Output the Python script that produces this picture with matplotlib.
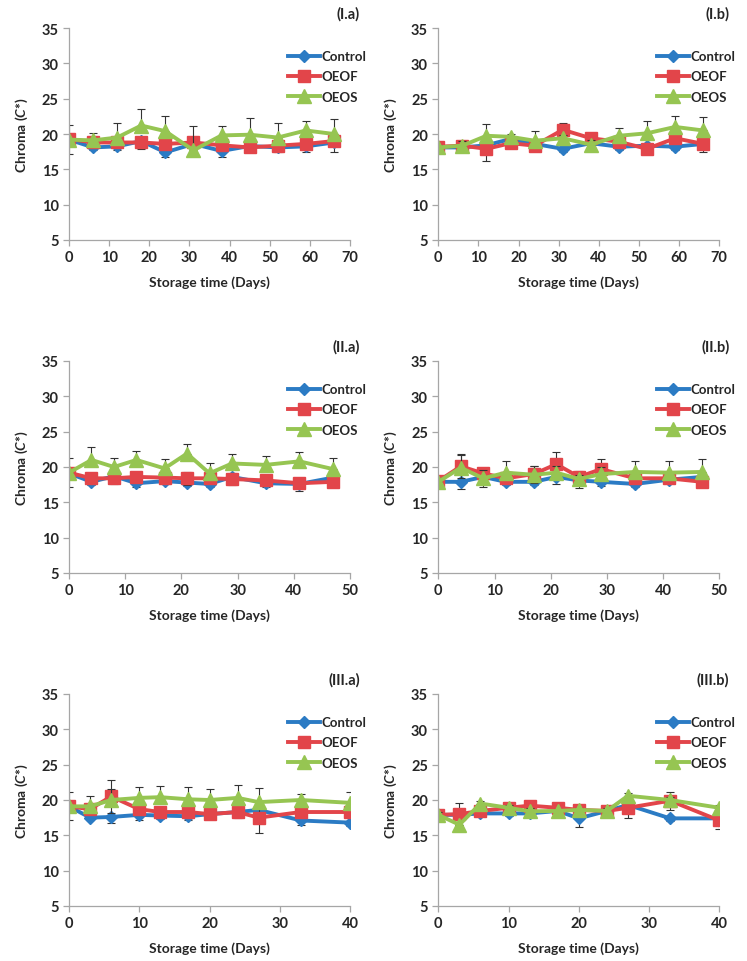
import matplotlib
matplotlib.use("Agg")
from matplotlib import pyplot as plt

plt.rcParams["font.family"] = ["Lato", "DejaVu Sans"]
plt.rcParams["font.weight"] = "bold"
plt.rcParams["mathtext.fontset"] = "custom"
plt.rcParams["mathtext.it"] = "Lato:italic:bold"
plt.rcParams["mathtext.rm"] = "Lato:bold"

# storage days per row
days_1 = [0, 6, 12, 18, 24, 31, 38, 45, 52, 59, 66]
days_2 = [0, 4, 8, 12, 17, 21, 25, 29, 35, 41, 47]
days_3 = [0, 3, 6, 10, 13, 17, 20, 24, 27, 33, 40]

# (I.a)
ctrl_1a = [19.2, 18.1, 18.25, 19.0, 17.4, 18.6, 17.6, 18.3, 18.1, 18.25, 18.8]
oeof_1a = [19.3, 18.8, 18.8, 18.8, 18.6, 18.8, 18.4, 18.1, 18.35, 18.6, 19.0]
oeos_1a = [19.2, 19.1, 19.5, 21.2, 20.4, 17.7, 19.8, 19.9, 19.5, 20.5, 20.0]
ctrl_err_1a = [2.1, 0.4, 0.5, 1.1, 0.7, 0.5, 0.9, 0.8, 0.7, 0.75, 1.3]
oeof_err_1a = [0.3, 0.3, 0.3, 0.3, 0.3, 0.3, 0.3, 0.3, 0.3, 0.3, 0.3]
oeos_err_1a = [2.1, 1.1, 2.0, 2.4, 2.2, 3.4, 1.3, 2.4, 2.1, 1.4, 2.1]

# (I.b)
ctrl_1b = [18.1, 18.1, 18.4, 19.3, 18.6, 17.9, 18.7, 18.2, 18.35, 18.2, 18.6]
oeof_1b = [18.2, 18.35, 17.9, 18.7, 18.35, 20.6, 19.4, 18.9, 17.9, 19.4, 18.6]
oeos_1b = [18.1, 18.35, 19.75, 19.6, 19.05, 19.4, 18.5, 19.75, 20.1, 21.0, 20.5]
ctrl_err_1b = [0.3, 0.4, 0.3, 0.3, 0.3, 0.4, 0.3, 0.4, 0.3, 0.4, 0.4]
oeof_err_1b = [0.4, 0.5, 1.7, 0.4, 0.5, 0.9, 0.8, 0.5, 0.6, 0.6, 1.2]
oeos_err_1b = [0.4, 0.6, 1.6, 0.4, 1.4, 0.5, 0.6, 1.1, 1.7, 1.6, 1.9]

# (II.a)
ctrl_2a = [19.1, 17.9, 18.7, 17.7, 18.0, 17.8, 17.6, 18.6, 17.7, 17.6, 18.5]
oeof_2a = [19.2, 18.4, 18.4, 18.6, 18.5, 18.4, 18.4, 18.3, 18.1, 17.7, 17.9]
oeos_2a = [19.2, 21.0, 20.0, 21.0, 19.8, 21.9, 19.1, 20.5, 20.3, 20.8, 19.7]
ctrl_err_2a = [2.0, 0.5, 0.6, 0.6, 0.4, 0.5, 0.5, 0.7, 0.6, 1.0, 0.4]
oeof_err_2a = [0.5, 0.8, 0.8, 0.6, 0.5, 0.9, 0.4, 0.9, 0.6, 0.6, 0.4]
oeos_err_2a = [2.1, 1.8, 1.3, 1.2, 1.4, 1.4, 1.5, 1.4, 1.3, 1.3, 1.6]

# (II.b)
ctrl_2b = [17.9, 17.9, 18.6, 17.9, 17.9, 18.6, 18.1, 17.9, 17.6, 18.2, 18.6]
oeof_2b = [18.0, 20.1, 19.1, 18.4, 19.0, 20.4, 18.6, 19.7, 18.4, 18.4, 17.9]
oeos_2b = [17.9, 19.9, 18.4, 19.2, 18.9, 19.2, 18.3, 19.0, 19.3, 19.2, 19.3]
ctrl_err_2b = [0.5, 1.0, 1.4, 0.5, 0.5, 1.0, 1.1, 0.6, 0.4, 0.5, 0.4]
oeof_err_2b = [0.5, 1.6, 0.6, 0.5, 1.2, 1.7, 0.8, 1.5, 0.5, 0.5, 0.5]
oeos_err_2b = [0.5, 2.0, 1.2, 1.6, 1.2, 1.0, 0.6, 1.0, 1.5, 1.6, 1.9]

# (III.a)
ctrl_3a = [19.1, 17.5, 17.6, 17.9, 17.8, 17.7, 18.0, 18.3, 18.6, 17.1, 16.8]
oeof_3a = [19.1, 18.7, 20.5, 18.7, 18.3, 18.3, 18.0, 18.3, 17.5, 18.3, 18.3]
oeos_3a = [19.1, 19.1, 20.0, 20.3, 20.4, 20.1, 20.0, 20.3, 19.7, 20.0, 19.6]
ctrl_err_3a = [2.0, 0.4, 0.9, 0.7, 0.5, 0.6, 0.6, 0.6, 0.6, 0.6, 0.5]
oeof_err_3a = [0.5, 0.6, 2.3, 0.8, 0.6, 0.5, 0.6, 0.8, 2.2, 0.6, 0.5]
oeos_err_3a = [2.1, 1.4, 1.5, 1.6, 1.6, 1.8, 1.6, 1.8, 2.0, 0.9, 1.6]

# (III.b)
ctrl_3b = [17.9, 17.9, 18.1, 18.1, 18.1, 18.45, 17.4, 18.45, 19.3, 17.4, 17.4]
oeof_3b = [17.9, 18.0, 18.45, 18.9, 19.2, 18.9, 18.6, 18.45, 18.9, 19.9, 17.1]
oeos_3b = [17.9, 16.5, 19.5, 18.9, 18.4, 18.45, 18.6, 18.45, 20.6, 20.0, 18.9]
ctrl_err_3b = [0.6, 0.5, 0.4, 0.4, 0.5, 0.4, 1.2, 0.5, 0.4, 0.4, 0.4]
oeof_err_3b = [0.5, 1.6, 0.5, 0.6, 0.7, 0.4, 0.5, 0.4, 1.5, 1.3, 1.2]
oeos_err_3b = [0.4, 0.4, 0.3, 0.4, 0.4, 0.3, 0.3, 0.4, 0.4, 0.4, 0.4]

series_names = ["Control", "OEOF", "OEOS"]
colors = ["#2B7BC4", "#E2454A", "#96C552"]
markers = ["D", "s", "^"]
marker_sizes = [6, 9, 9.5]

TEXT = "#262626"
AXIS = "#A6A6A6"


def draw_panel(ax, days, values, errors, xmax, label):
    handles = []
    for i in range(3):
        err = errors[i]
        zeros = [0] * len(err)
        if i == 0:
            yerr = [err, zeros]  # control: lower bars
        elif i == 1:
            yerr = [err, err]
        else:
            yerr = [zeros, err]  # OEOS: upper bars
        ax.errorbar(days, values[i], yerr=yerr, fmt="none", ecolor="#333333",
                    elinewidth=0.8, capsize=3, capthick=0.8)
        line, = ax.plot(days, values[i], color=colors[i], lw=2.8,
                        marker=markers[i], ms=marker_sizes[i], mec=colors[i],
                        label=series_names[i])
        handles.append(line)

    ax.set_xlim(0, xmax)
    ax.set_ylim(5, 35)
    ax.set_xticks(range(0, xmax + 1, 10))
    ax.set_yticks(range(5, 36, 5))
    for s in ["top", "right"]:
        ax.spines[s].set_visible(False)
    for s in ["left", "bottom"]:
        ax.spines[s].set_color(AXIS)
        ax.spines[s].set_linewidth(0.9)
    ax.tick_params(colors=AXIS, labelcolor=TEXT, labelsize=10.5, length=4, width=0.9)
    for t in ax.get_xticklabels() + ax.get_yticklabels():
        t.set_fontweight("bold")

    ax.set_xlabel("Storage time (Days)", fontsize=10, fontweight="bold", color=TEXT)
    ax.set_ylabel("Chroma ($\\mathit{C}$*)", fontsize=10, fontweight="bold", color=TEXT)
    ax.yaxis.set_label_coords(-0.14, 0.5)
    ax.xaxis.set_label_coords(0.5, -0.165)

    ax.text(1.036, 1.07, label, transform=ax.transAxes, ha="right", va="center",
            fontsize=10.5, fontweight="bold", color=TEXT)

    leg = ax.legend(handles, series_names, loc="upper left", bbox_to_anchor=(0.78, 0.895),
                    frameon=False, fontsize=9.5, handlelength=2.4, handletextpad=0.1,
                    labelspacing=0.62, borderaxespad=0, borderpad=0)
    for t in leg.get_texts():
        t.set_color(TEXT)
        t.set_fontweight("bold")


fig = plt.figure(figsize=(7.47, 9.62), dpi=100)

lefts = [69 / 747, 438.3 / 747]
width = 281 / 747
bottoms = [1 - 241 / 962, 1 - 574 / 962, 1 - 907 / 962]
height = 212 / 962

panels = [
    (0, 0, days_1, [ctrl_1a, oeof_1a, oeos_1a], [ctrl_err_1a, oeof_err_1a, oeos_err_1a], 70, "(I.a)"),
    (0, 1, days_1, [ctrl_1b, oeof_1b, oeos_1b], [ctrl_err_1b, oeof_err_1b, oeos_err_1b], 70, "(I.b)"),
    (1, 0, days_2, [ctrl_2a, oeof_2a, oeos_2a], [ctrl_err_2a, oeof_err_2a, oeos_err_2a], 50, "(II.a)"),
    (1, 1, days_2, [ctrl_2b, oeof_2b, oeos_2b], [ctrl_err_2b, oeof_err_2b, oeos_err_2b], 50, "(II.b)"),
    (2, 0, days_3, [ctrl_3a, oeof_3a, oeos_3a], [ctrl_err_3a, oeof_err_3a, oeos_err_3a], 40, "(III.a)"),
    (2, 1, days_3, [ctrl_3b, oeof_3b, oeos_3b], [ctrl_err_3b, oeof_err_3b, oeos_err_3b], 40, "(III.b)"),
]

for row, col, days, values, errors, xmax, label in panels:
    ax = fig.add_axes([lefts[col], bottoms[row], width, height])
    draw_panel(ax, days, values, errors, xmax, label)

plt.savefig("out.png", dpi=100)
plt.close(fig)
